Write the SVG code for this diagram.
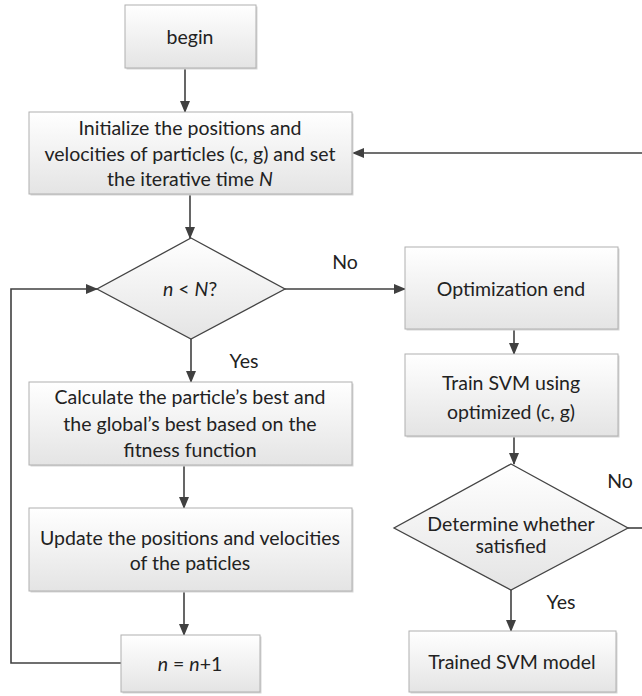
<svg xmlns="http://www.w3.org/2000/svg" width="642" height="696" viewBox="0 0 642 696">
<defs>
<linearGradient id="g" x1="0" y1="0" x2="0" y2="1">
<stop offset="0" stop-color="#ffffff"/>
<stop offset="1" stop-color="#e4e4e4"/>
</linearGradient>
<marker id="ah" markerWidth="12" markerHeight="10" refX="11" refY="5" orient="auto" markerUnits="userSpaceOnUse">
<path d="M0,0 L12,5 L0,10 z" fill="#404040"/>
</marker>
</defs>
<style>
.box{fill:url(#g);stroke:#b0b0b0;stroke-width:1}
.sh{fill:#d6d6d6;stroke:none}
.dia{fill:url(#g);stroke:#444;stroke-width:1.3}
.t{font-family:Lato,"Liberation Sans",sans-serif;font-size:19.5px;fill:#222;text-anchor:middle}
.c{fill:none;stroke:#404040;stroke-width:1.6}
.a{marker-end:url(#ah)}
</style>
<rect width="642" height="696" fill="#ffffff"/>
<g id="connectors">
<line class="c a" x1="185" y1="68" x2="185" y2="112"/>
<line class="c a" x1="642" y1="153" x2="353" y2="153"/>
<line class="c a" x1="190" y1="194" x2="190" y2="238"/>
<line class="c a" x1="285" y1="289" x2="405" y2="289"/>
<line class="c a" x1="514" y1="329" x2="514" y2="354"/>
<line class="c a" x1="514" y1="436" x2="514" y2="464"/>
<line class="c a" x1="191" y1="339" x2="191" y2="382"/>
<line class="c a" x1="184" y1="465" x2="184" y2="508"/>
<line class="c a" x1="184" y1="591" x2="184" y2="635"/>
<polyline class="c a" points="121,663 11,663 11,289 97,289"/>
<line class="c" x1="628" y1="528" x2="642" y2="528"/>
<line class="c a" x1="511" y1="590" x2="511" y2="631"/>
<text class="t" x="345" y="269">No</text>
<text class="t" x="244" y="368">Yes</text>
<text class="t" x="620" y="488">No</text>
<text class="t" x="561" y="609">Yes</text>
</g>
<g id="begin">
<rect class="sh" x="126.5" y="6.5" width="131" height="63"/>
<rect class="box" x="125" y="5" width="131" height="63"/>
<text class="t" x="190" y="44">begin</text>
</g>
<g id="init">
<rect class="sh" x="30.5" y="113.5" width="323" height="82"/>
<rect class="box" x="29" y="112" width="323" height="82"/>
<text class="t" x="190" y="135">Initialize the positions and</text>
<text class="t" x="190" y="161">velocities of particles (c, g) and set</text>
<text class="t" x="190" y="186">the iterative time <tspan font-style="italic">N</tspan></text>
</g>
<g id="cond1">
<polygon class="dia" points="191,238 285,289 191,339 97,289"/>
<text class="t" x="190" y="296"><tspan font-style="italic">n</tspan> &lt; <tspan font-style="italic">N</tspan>?</text>
</g>
<g id="optend">
<rect class="sh" x="406.5" y="248.5" width="213" height="82"/>
<rect class="box" x="405" y="247" width="213" height="82"/>
<text class="t" x="511" y="296">Optimization end</text>
</g>
<g id="train">
<rect class="sh" x="406.5" y="355.5" width="213" height="82"/>
<rect class="box" x="405" y="354" width="213" height="82"/>
<text class="t" x="511" y="390">Train SVM using</text>
<text class="t" x="511" y="419">optimized (c, g)</text>
</g>
<g id="calc">
<rect class="sh" x="30.5" y="383.5" width="323" height="83"/>
<rect class="box" x="29" y="382" width="323" height="83"/>
<text class="t" x="190" y="404">Calculate the particle’s best and</text>
<text class="t" x="190" y="431">the global’s best based on the</text>
<text class="t" x="190" y="457">fitness function</text>
</g>
<g id="update">
<rect class="sh" x="30.5" y="509.5" width="323" height="83"/>
<rect class="box" x="29" y="508" width="323" height="83"/>
<text class="t" x="190" y="545">Update the positions and velocities</text>
<text class="t" x="190" y="570">of the paticles</text>
</g>
<g id="incr">
<rect class="sh" x="122.5" y="636.5" width="139" height="57"/>
<rect class="box" x="121" y="635" width="139" height="57"/>
<text class="t" x="190" y="671"><tspan font-style="italic">n</tspan> = <tspan font-style="italic">n</tspan>+1</text>
</g>
<g id="cond2">
<polygon class="dia" points="511,464 628,528 511,590 394,528"/>
<text class="t" x="511" y="531">Determine whether</text>
<text class="t" x="511" y="553">satisfied</text>
</g>
<g id="trained">
<rect class="sh" x="410.5" y="632.5" width="207" height="61"/>
<rect class="box" x="409" y="631" width="207" height="61"/>
<text class="t" x="512" y="669">Trained SVM model</text>
</g>
</svg>
